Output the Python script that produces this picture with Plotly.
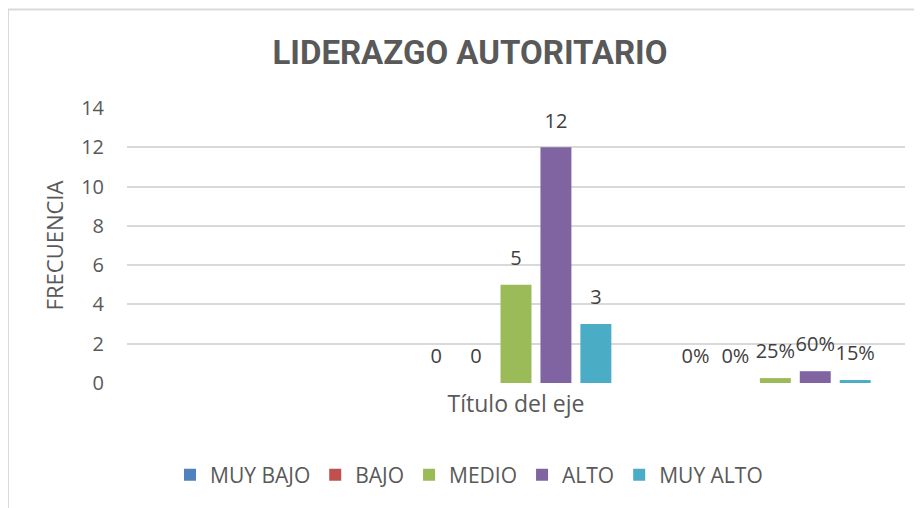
import plotly.graph_objects as go

categories = ["Vacío", "Frecuencia", "Porcentaje"]
series_names = ["MUY BAJO", "BAJO", "MEDIO", "ALTO", "MUY ALTO"]
muy_bajo = [None, 0, 0.00]
bajo = [None, 0, 0.00]
medio = [None, 5, 0.25]
alto = [None, 12, 0.60]
muy_alto = [None, 3, 0.15]
muy_bajo_lbl = ["", "0", "0%"]
bajo_lbl = ["", "0", "0%"]
medio_lbl = ["", "5", "25%"]
alto_lbl = ["", "12", "60%"]
muy_alto_lbl = ["", "3", "15%"]
y_ticks = [0, 2, 4, 6, 8, 10, 12, 14]

colors = ["#4F81BD", "#C0504D", "#9BBB59", "#8064A2", "#4BACC6"]
values = [muy_bajo, bajo, medio, alto, muy_alto]
labels = [muy_bajo_lbl, bajo_lbl, medio_lbl, alto_lbl, muy_alto_lbl]

FONT = "Open Sans, Noto Sans, DejaVu Sans, sans-serif"
TXT = "#595959"
BARGAP = 0.23

fig = go.Figure()
for name, vals, col in zip(series_names, values, colors):
    fig.add_trace(go.Bar(
        x=categories, y=vals, name=name, marker_color=col,
        marker_line_width=0, hoverinfo="skip",
    ))
# data labels, grouped like the bars
for i, (name, vals, lbl) in enumerate(zip(series_names, values, labels)):
    fig.add_trace(go.Scatter(
        x=categories, y=vals, text=lbl, mode="markers+text",
        textposition="top center", cliponaxis=False,
        marker=dict(size=22, color="rgba(0,0,0,0)"),
        offsetgroup=str(i), alignmentgroup="lbl",
        textfont=dict(family=FONT, size=20, color="#404040"),
        showlegend=False, hoverinfo="skip",
    ))

W, H = 914, 500
L, R, T, B = 119, 17, 100, 125
pw, ph = W - L - R, H - T - B

fig.update_layout(
    width=W, height=H,
    margin=dict(l=L, r=R, t=T, b=B, autoexpand=False),
    paper_bgcolor="white", plot_bgcolor="white",
    barmode="group", bargap=BARGAP, bargroupgap=0.225,
    scattermode="group", scattergap=BARGAP,
    font=dict(family=FONT, color=TXT),
    title=dict(text="<b>LIDERAZGO AUTORITARIO</b>",
               font=dict(family="Roboto, Open Sans, sans-serif", size=33, color=TXT),
               x=462 / W, xanchor="center", xref="container",
               y=1 - 44 / H, yanchor="middle", yref="container"),
    xaxis=dict(showticklabels=False, showgrid=False, zeroline=False,
               showline=False, ticks="",
               title=dict(text="Título del eje", standoff=12,
                          font=dict(family=FONT, size=23, color=TXT))),
    yaxis=dict(range=[0, 14], tickvals=y_ticks, showgrid=True,
               gridcolor="#d9d9d9", gridwidth=1.5, zeroline=False,
               showline=False, ticklabelstandoff=22,
               tickfont=dict(family=FONT, size=20, color=TXT),
               title=dict(text="FRECUENCIA", standoff=11,
                          font=dict(family=FONT, size=22, color=TXT))),
    legend=dict(orientation="h", x=(469 - 127) / pw, xanchor="center",
                y=(383 - 475) / ph, yanchor="middle",
                font=dict(family=FONT, size=21, color=TXT),
                itemwidth=30, traceorder="normal"),
    showlegend=True,
)

# chart area border (left and top edges visible)
fig.add_shape(type="line", xref="paper", yref="paper",
              x0=(0 - L) / pw, x1=(0 - L) / pw,
              y0=(T + ph - H - 5) / ph, y1=(T + ph - 1.5) / ph,
              line=dict(color="#d9d9d9", width=2))
fig.add_shape(type="line", xref="paper", yref="paper",
              x0=(0 - L) / pw, x1=(W + 5 - L) / pw,
              y0=(T + ph - 1.5) / ph, y1=(T + ph - 1.5) / ph,
              line=dict(color="#d9d9d9", width=2))

fig.write_html("out.html")
